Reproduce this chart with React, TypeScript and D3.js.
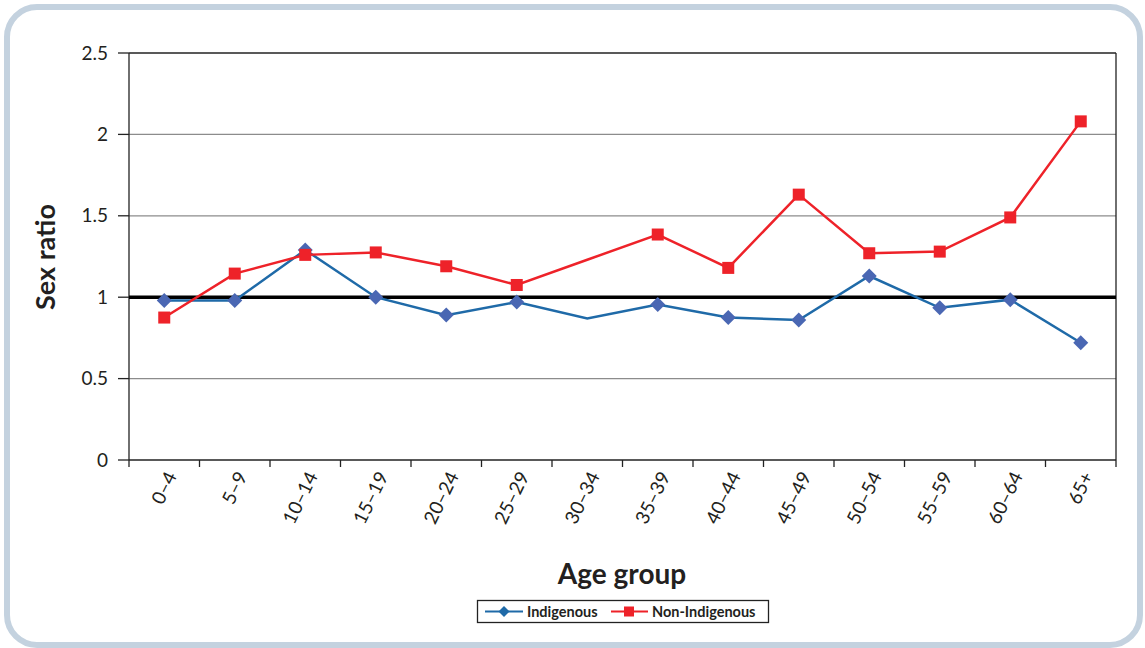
import React from "react";
import * as d3 from "d3";

const categories = ["0–4", "5–9", "10–14", "15–19", "20–24", "25–29", "30–34", "35–39", "40–44", "45–49", "50–54", "55–59", "60–64", "65+"];
const indigenous = [0.98, 0.98, 1.29, 1.0, 0.89, 0.97, 0.87, 0.955, 0.875, 0.86, 1.13, 0.935, 0.985, 0.72];
const nonIndigenous = [0.875, 1.145, 1.26, 1.275, 1.19, 1.075, 1.23, 1.385, 1.18, 1.63, 1.27, 1.28, 1.49, 2.08];
const markerShown = [true, true, true, true, true, true, false, true, true, true, true, true, true, true];
const yTicks = [0, 0.5, 1, 1.5, 2, 2.5];
const yTickLabels = ["0", "0.5", "1", "1.5", "2", "2.5"];
const referenceValue = 1;

const W = 1145;
const H = 648;
const FONT = "Lato, 'Open Sans', sans-serif";

export default function App() {
  const left = 129, right = 1116, top = 53, bottom = 460;
  const x = d3.scaleBand<string>().domain(categories).range([left, right]);
  const y = d3.scaleLinear().domain([0, 2.5]).range([bottom, top]);
  const cx = (c: string) => (x(c) as number) + x.bandwidth() / 2;

  const line = d3.line<number>().x((_, i) => cx(categories[i])).y((v) => y(v));

  const blueLine = "#1f6aa8";
  const blueMarker = "#4a67b3";
  const red = "#ee2229";

  const diamond = (px: number, py: number, r: number) =>
    `M${px},${py - r}L${px + r},${py}L${px},${py + r}L${px - r},${py}Z`;

  const boundaries = d3.range(categories.length + 1).map((i) => left + i * x.bandwidth());

  return (
    <svg width={W} height={H} style={{ position: "absolute", left: 0, top: 0, background: "#fff" }} fontFamily={FONT}>
      <rect x={7} y={7} width={1133} height={638} rx={30} ry={30} fill="#fff" stroke="#c4d2df" strokeWidth={6} />
      {yTicks.filter((t) => t !== 0 && t !== 2.5 && t !== referenceValue).map((t) => (
        <line key={t} x1={left} x2={right} y1={y(t)} y2={y(t)} stroke="#8c8c8c" strokeWidth={1.3} />
      ))}
      <line x1={left} x2={right} y1={top} y2={top} stroke="#222" strokeWidth={1.3} />
      <line x1={right} x2={right} y1={top} y2={bottom} stroke="#222" strokeWidth={1.3} />
      <line x1={left} x2={left} y1={top} y2={bottom} stroke="#222" strokeWidth={1.3} />
      <line x1={left} x2={right} y1={bottom} y2={bottom} stroke="#222" strokeWidth={1.3} />
      {yTicks.map((t, i) => (
        <g key={t}>
          <line x1={left - 11} x2={left} y1={y(t)} y2={y(t)} stroke="#222" strokeWidth={1.3} />
          <text x={108} y={y(t)} dy="0.35em" textAnchor="end" fontSize={19} fill="#231f20">
            {yTickLabels[i]}
          </text>
        </g>
      ))}
      {boundaries.map((b, i) => (
        <line key={i} x1={b} x2={b} y1={bottom} y2={bottom + 7} stroke="#222" strokeWidth={1.3} />
      ))}
      {categories.map((c) => (
        <text key={c} transform={`translate(${cx(c) + 7},${bottom + 13}) rotate(-64)`} textAnchor="end" dy="0.35em" fontSize={19} fill="#231f20">
          {c}
        </text>
      ))}
      <line x1={left} x2={right} y1={y(referenceValue)} y2={y(referenceValue)} stroke="#000" strokeWidth={3.5} />
      <path d={line(indigenous) || ""} fill="none" stroke={blueLine} strokeWidth={2.5} />
      <path d={line(nonIndigenous) || ""} fill="none" stroke={red} strokeWidth={2.5} />
      {indigenous.map((v, i) =>
        markerShown[i] ? <path key={"i" + i} d={diamond(cx(categories[i]), y(v), 7.5)} fill={blueMarker} /> : null
      )}
      {nonIndigenous.map((v, i) =>
        markerShown[i] ? (
          <rect key={"n" + i} x={cx(categories[i]) - 6} y={y(v) - 6} width={12} height={12} fill={red} />
        ) : null
      )}
      <text transform={`translate(55,257) rotate(-90)`} textAnchor="middle" fontSize={27} fontWeight="bold" fill="#231f20">
        Sex ratio
      </text>
      <text x={622} y={584} textAnchor="middle" fontSize={28} fontWeight="bold" fill="#231f20">
        Age group
      </text>
      <rect x={477.5} y={600.5} width={291} height={22} fill="#fff" stroke="#222" strokeWidth={1.3} />
      <line x1={485} x2={523} y1={611.5} y2={611.5} stroke={blueLine} strokeWidth={2} />
      <path d={diamond(504, 611.5, 5.5)} fill={blueLine} />
      <text x={527} y={611.5} dy="0.35em" fontSize={14.5} fontWeight="bold" fill="#231f20">Indigenous</text>
      <line x1={611} x2={648} y1={611.5} y2={611.5} stroke={red} strokeWidth={2} />
      <rect x={624} y={606.5} width={10} height={10} fill={red} />
      <text x={652} y={611.5} dy="0.35em" fontSize={14.5} fontWeight="bold" fill="#231f20">Non-Indigenous</text>
    </svg>
  );
}
